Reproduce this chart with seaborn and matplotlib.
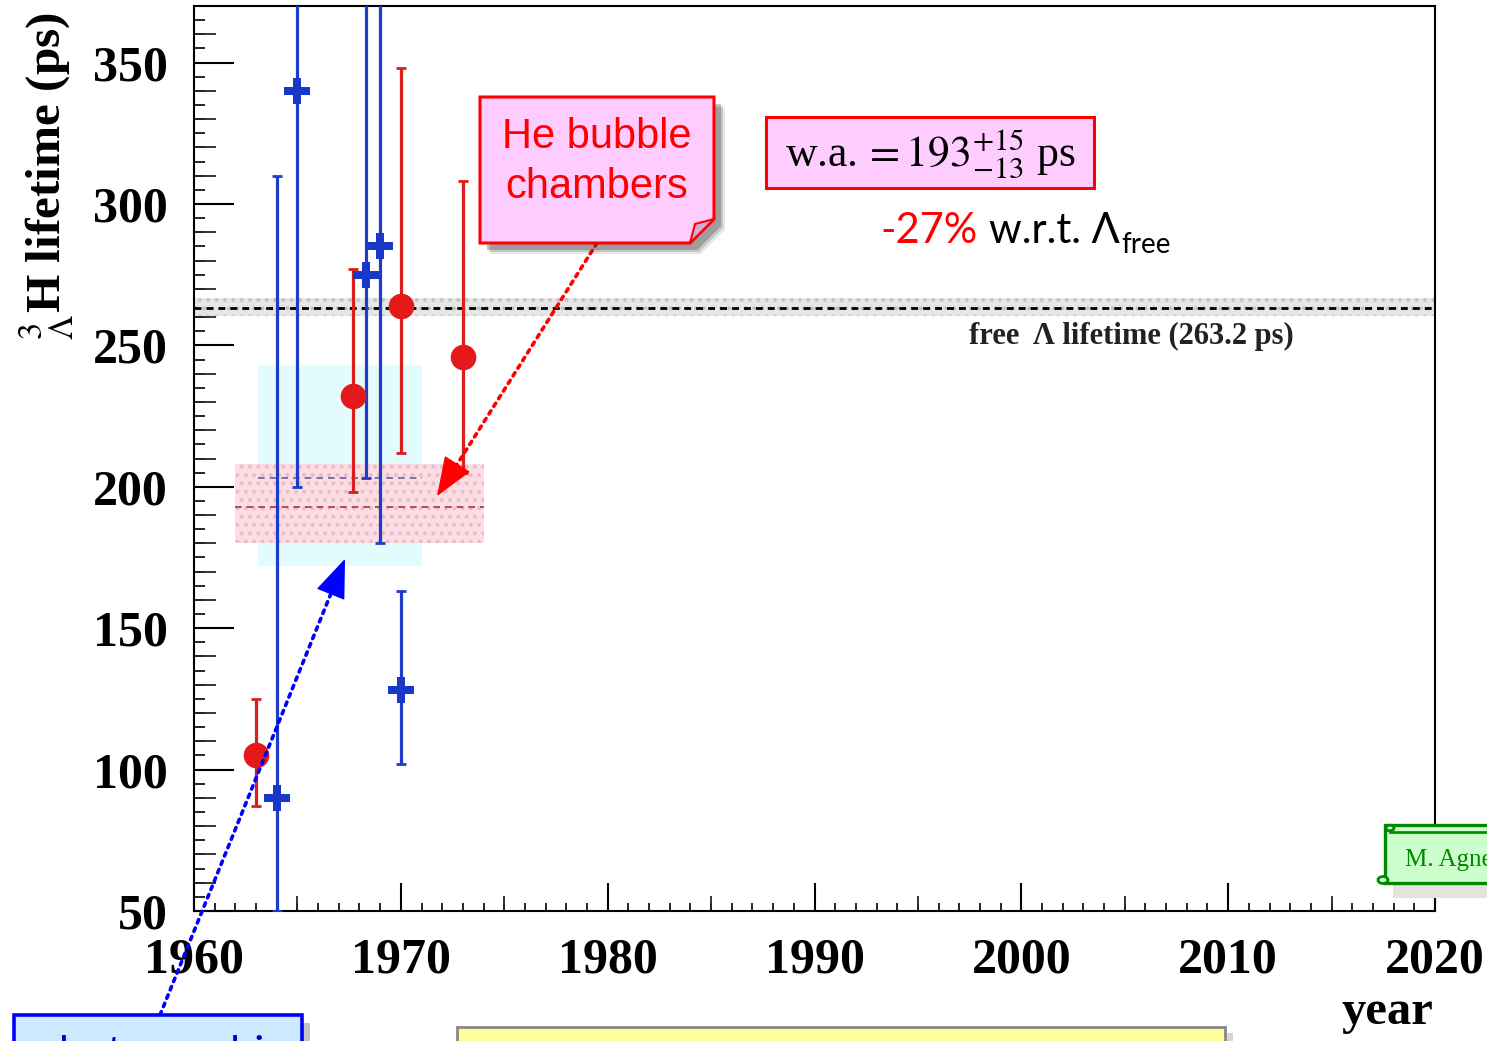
import numpy as np
import pandas as pd
import matplotlib
matplotlib.use("Agg")
import matplotlib.pyplot as plt
from matplotlib.patches import Polygon, Circle
from matplotlib.ticker import MultipleLocator, NullFormatter
import seaborn as sns

# ---- hypertriton lifetime measurements -------------------------------
# He bubble chamber results
bubble_year = [1963.0, 1967.7, 1970.0, 1973.0]
bubble_tau = [105, 232, 264, 246]
bubble_err_up = [20, 45, 84, 62]
bubble_err_dn = [18, 34, 52, 41]

# emulsion results
emul_year = [1964.0, 1965.0, 1968.3, 1969.0, 1970.0]
emul_tau = [90, 340, 275, 285, 128]
emul_err_up = [220, 1100, 130, 127, 35]
emul_err_dn = [40, 140, 72, 105, 26]

# weighted averages
wa_all = 193
wa_all_up, wa_all_dn = 15, 13
wa_all_years = [1962.0, 1974.0]
wa_emul = 203
wa_emul_up, wa_emul_dn = 40, 31
wa_emul_years = [1963.1, 1971.0]

# free Lambda lifetime
free_lambda = 263.2
free_lambda_band = [260.4, 266.6]

year_ticks = [1960, 1970, 1980, 1990, 2000, 2010, 2020]
tau_ticks = [50, 100, 150, 200, 250, 300, 350]

# ---- style -------------------------------------------------------------
sns.set_theme(style="white")
plt.rcParams["font.family"] = ["Liberation Serif", "DejaVu Serif"]
plt.rcParams["mathtext.fontset"] = "stix"
plt.rcParams["hatch.linewidth"] = 1.6

W, H = 1487, 1041
fig = plt.figure(figsize=(W / 100, H / 100), dpi=100)
fig.patch.set_facecolor("white")


def px(x, y):
    """pixel position (from top-left) -> figure fraction"""
    return (x / W, 1 - y / H)


ax = fig.add_axes([194 / W, 1 - 911 / H, (1435 - 194) / W, (911 - 6) / H])
ax.set_facecolor("white")

# ---- bands and reference lines ------------------------------------------
ax.fill_between(wa_emul_years, wa_emul - wa_emul_dn, wa_emul + wa_emul_up,
                color="#E4FBFD", linewidth=0, zorder=0.5)
ax.fill_between(wa_all_years, wa_all - wa_all_dn, wa_all + wa_all_up,
                facecolor="#FBDDE3", edgecolor="#E9BCC6", hatch="..",
                linewidth=0, zorder=0.8)
ax.hlines(wa_emul, *wa_emul_years, colors="#6060A8", linestyles=(0, (4, 3)),
          linewidth=1.2, zorder=1)
ax.hlines(wa_all, *wa_all_years, colors="#B0304A", linestyles=(0, (4, 3)),
          linewidth=1.2, zorder=1)

ax.axhspan(*free_lambda_band, facecolor="#E6E6E6", edgecolor="#C4C4C4",
           hatch="..", linewidth=0, zorder=0.6)
ax.axhline(free_lambda, color="black", linestyle=(0, (2.5, 1.8)),
           linewidth=2, zorder=1.2)
ax.text(2005.3, 253.2, "free  \u039b lifetime (263.2 ps)", ha="center",
        va="center", fontsize=22, fontweight="bold", color="#222222")

# ---- data points ---------------------------------------------------------
bubble = pd.DataFrame({"year": bubble_year, "tau": bubble_tau})
emul = pd.DataFrame({"year": emul_year, "tau": emul_tau})

red = "#E41A1A"
blue = "#1838C8"

ax.errorbar(bubble_year, bubble_tau, yerr=[bubble_err_dn, bubble_err_up],
            fmt="none", ecolor="#D91E1E", elinewidth=2.3, capsize=3.5,
            capthick=2, zorder=3)
ax.errorbar(emul_year, emul_tau, yerr=[emul_err_dn, emul_err_up],
            fmt="none", ecolor="#1E3CC8", elinewidth=2.3, capsize=3.5,
            capthick=2, zorder=3)
sns.scatterplot(data=bubble, x="year", y="tau", marker="o", s=340,
                color=red, linewidth=0, ax=ax, zorder=4, legend=False)
sns.scatterplot(data=emul, x="year", y="tau", marker="P", s=330,
                color=blue, linewidth=0, ax=ax, zorder=4, legend=False)

# ---- axes ------------------------------------------------------------------
ax.set_xlim(1960, 2020)
ax.set_ylim(50, 370)
ax.set_xticks(year_ticks)
ax.set_xticklabels([str(t) for t in year_ticks], fontsize=36, fontweight="bold")
ax.set_yticks(tau_ticks)
ax.set_yticklabels([str(t) for t in tau_ticks], fontsize=36, fontweight="bold")
ax.xaxis.set_minor_locator(MultipleLocator(5))
ax.yaxis.set_minor_locator(MultipleLocator(10))
ax.tick_params(axis="x", which="major", direction="in", length=20, width=1.5,
               pad=19, bottom=True, top=False, colors="black")
ax.tick_params(axis="x", which="minor", direction="in", length=11, width=1.3,
               bottom=True, top=False)
ax.tick_params(axis="y", which="major", direction="in", length=29, width=1.5,
               pad=19, left=True, right=False, colors="black")
ax.tick_params(axis="y", which="minor", direction="in", length=16, width=1.3,
               left=True, right=False)
for s in ax.spines.values():
    s.set_visible(True)
    s.set_color("black")
    s.set_linewidth(1.5)

# finest tick level (1 year, 5 ps)
sx = ax.secondary_xaxis("bottom")
sx.xaxis.set_major_locator(MultipleLocator(1))
sx.xaxis.set_major_formatter(NullFormatter())
sx.tick_params(direction="in", length=6, width=1.2, colors="black")
for s in sx.spines.values():
    s.set_visible(False)
sy = ax.secondary_yaxis("left")
sy.yaxis.set_major_locator(MultipleLocator(5))
sy.yaxis.set_major_formatter(NullFormatter())
sy.tick_params(direction="in", length=8, width=1.2, colors="black")
for s in sy.spines.values():
    s.set_visible(False)

ax.set_ylabel(r"${}^{3}_{\Lambda}$H lifetime (ps)", fontsize=35.5,
              fontweight="bold", color="black")
ax.yaxis.set_label_coords((76 - 194) / 1241, (911 - 176) / 905)
ax.set_xlabel("year", fontsize=35, fontweight="bold", color="black")
ax.xaxis.set_label_coords((1387 - 194) / 1241, (911 - 990) / 905)

# ---- annotation boxes --------------------------------------------------
def fig_poly(points, **kw):
    pts = [px(x, y) for x, y in points]
    p = Polygon(pts, closed=True, transform=fig.transFigure, **kw)
    fig.add_artist(p)
    return p


def fig_rect(x0, y0, x1, y1, **kw):
    return fig_poly([(x0, y0), (x1, y0), (x1, y1), (x0, y1)], **kw)


# "He bubble chambers" note with folded corner and shadow
note = [(480, 97), (714, 97), (714, 219), (690, 243), (480, 243)]
for off, a in [(11, 0.12), (9, 0.2), (7, 0.3)]:
    fig_poly([(x + off, y + off) for x, y in note], facecolor="#404040",
             edgecolor="none", alpha=a, zorder=5)
fig_poly(note, facecolor="#FFCCFF", edgecolor="#FF0000", linewidth=2.2,
         zorder=6)
fig_poly([(714, 219), (690, 243), (695, 224)], facecolor="#D8AAD8",
         edgecolor="#FF0000", linewidth=1.5, zorder=6)
fig.text(*px(597, 162), "He bubble\nchambers", ha="center", va="center",
         fontsize=30, color="#FF0000", family=["Liberation Sans", "DejaVu Sans"],
         linespacing=1.3, zorder=7)

# weighted average box
fig_rect(766, 117, 1094, 188, facecolor="#FFCCFF", edgecolor="#FF0000",
         linewidth=2.2, zorder=6)
fig.text(*px(930, 154), r"w.a.$\,=193^{+15}_{-13}$ ps", ha="center",
         va="center", fontsize=31.5, color="black", zorder=7)

# relative shift w.r.t. the free Lambda
fig.canvas.draw()
renderer = fig.canvas.get_renderer()
sans = ["Lato", "Open Sans", "DejaVu Sans"]
x_cur = 880 / W
y_base = 1 - 243 / H
t1 = fig.text(x_cur, y_base, "-27%", color="#FF0000", fontsize=30,
              family=sans, va="baseline", zorder=7)
x_cur = t1.get_window_extent(renderer).x1 / W + 12 / W
t2 = fig.text(x_cur, y_base, "w.r.t. \u039b", color="black", fontsize=30,
              family=sans, va="baseline", zorder=7)
x_cur = t2.get_window_extent(renderer).x1 / W + 1 / W
fig.text(x_cur, y_base - 10 / H, "free", color="black", fontsize=20,
         family=sans, va="baseline", zorder=7)

# emulsion label box (bottom left)
fig_rect(22, 1023, 310, 1070, facecolor="#555555", edgecolor="none",
         alpha=0.35, zorder=5)
fig_rect(14, 1015, 302, 1070, facecolor="#CCE9FF", edgecolor="#0000FF",
         linewidth=2.6, zorder=6)
fig.text(*px(160, 1066), "photographic", ha="center", va="baseline",
         fontsize=31, color="#0000D0", family=sans, zorder=7)

# yellow box (bottom)
fig_rect(464, 1033, 1233, 1070, facecolor="#777777", edgecolor="none",
         alpha=0.3, zorder=5)
fig_rect(457, 1027, 1225, 1070, facecolor="#FFFF99", edgecolor="#888888",
         linewidth=2, zorder=6)

# author scroll (right edge)
fig_rect(1393, 878, 1500, 898, facecolor="#E6E3DA", edgecolor="none",
         zorder=5)
fig_rect(1385, 825, 1500, 883, facecolor="#CCFFCC", edgecolor="#008800",
         linewidth=2.4, zorder=6)
fig_poly([(1390, 832), (1500, 832), (1500, 833), (1390, 833)],
         facecolor="#008800", edgecolor="#008800", linewidth=1.2, zorder=6.5)
for cx, cy, r in [(1390, 828, 4), (1383, 880, 5)]:
    fig.add_artist(Circle(px(cx, cy), r / W, transform=fig.transFigure,
                          facecolor="#CCFFCC", edgecolor="#008800",
                          linewidth=2, zorder=6.6))
fig.text(*px(1405, 866), "M. Agnello", ha="left", va="baseline",
         fontsize=18, color="#008800", zorder=7)


# ---- arrows: dotted shaft plus solid head -----------------------------
def dotted_arrow(tip_data, tail_px, color):
    ax.annotate("", xy=tip_data, xycoords="data",
                xytext=px(*tail_px), textcoords="figure fraction",
                arrowprops=dict(arrowstyle="-", color=color, linewidth=2.6,
                                linestyle=(0, (1, 1.5)), shrinkA=0,
                                shrinkB=10),
                annotation_clip=False, zorder=8)
    tip = np.array(ax.transData.transform(tip_data))
    tail = np.array([tail_px[0], H - tail_px[1]], dtype=float)
    d = tail - tip
    d /= np.hypot(*d)
    base = tip + d * 30
    ax.annotate("", xy=tip_data, xycoords="data",
                xytext=tuple(base), textcoords="figure pixels",
                arrowprops=dict(arrowstyle="-|>,head_length=1.6,head_width=0.62",
                                color=color, linewidth=1, mutation_scale=16,
                                shrinkA=0, shrinkB=0),
                annotation_clip=False, zorder=8)


dotted_arrow((1971.75, 196.7), (597, 243), "#FF0000")
dotted_arrow((1967.3, 174.5), (160, 1015), "#0000FF")

fig.savefig("out.png", dpi=100)
